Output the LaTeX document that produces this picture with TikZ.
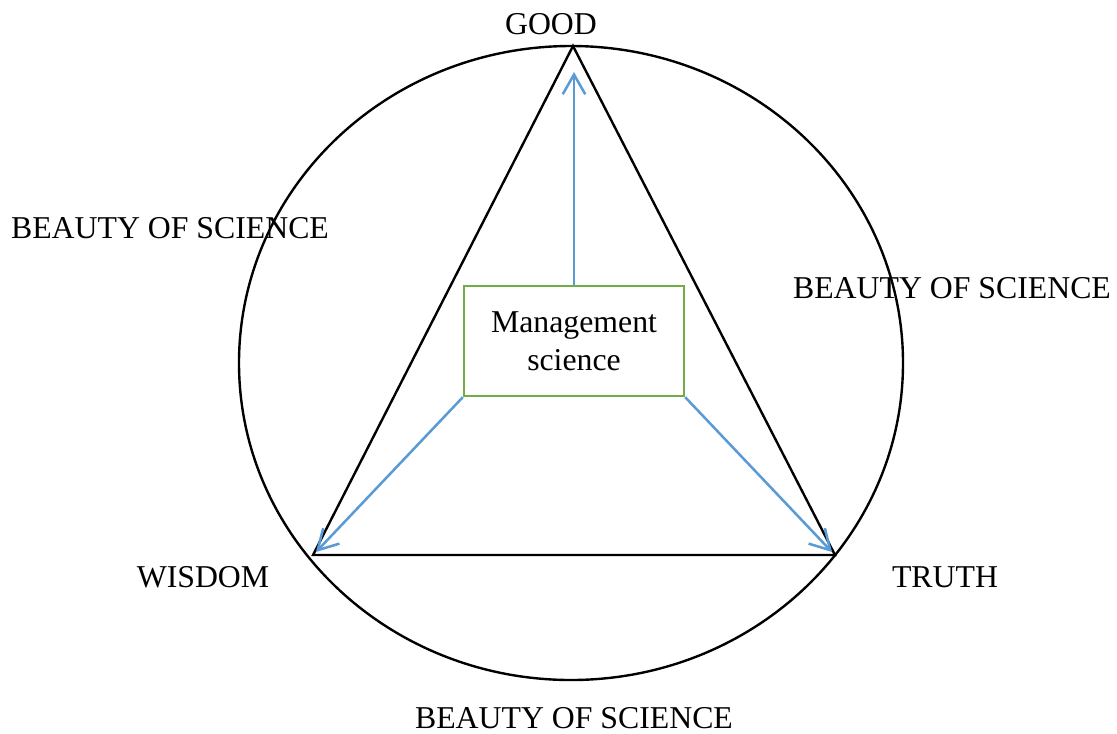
\documentclass[tikz,border=0pt]{standalone}
\usepackage{fontspec}
\setmainfont{Liberation Serif}
\usetikzlibrary{arrows.meta}
\definecolor{boxgreen}{RGB}{112,173,71}
\definecolor{arrowblue}{RGB}{91,155,213}

\begin{document}
\begin{tikzpicture}[x=0.025cm, y=-0.025cm,
      edge/.style={draw=black, line width=1.7pt},
      msbox/.style={draw=boxgreen, line width=1.7pt, minimum width=5.5cm, minimum height=2.75cm, align=center, font=\fontsize{22.6}{27}\selectfont},
      flow/.style={draw=arrowblue, line width=1.8pt, -{Straight Barb[length=14pt, width=16pt, line width=1.8pt]}},
      label/.style={font=\fontsize{22.6}{27}\selectfont, inner sep=0pt}
    ]
    \useasboundingbox (0,0) rectangle (1117,733);

    % outer circle
    \draw[edge] (571,363) ellipse [x radius=332, y radius=317];

    % triangle corners
    \coordinate (good) at (573,46);
    \coordinate (wisdom) at (313,555);
    \coordinate (truth) at (835,555);
    \draw[edge, line join=miter] (good) -- (wisdom) -- (truth) -- cycle;

    % centre box
    \node[msbox] (ms) at (574,341) {Management\\science};

    % arrows from the box
    \coordinate (goodtip) at (574,72);
    \coordinate (wisdomtip) at (316,552);
    \coordinate (truthtip) at (832,552);
    \draw[flow] (ms.north) -- (goodtip);
    \draw[flow] (ms.south west) -- (wisdomtip);
    \draw[flow] (ms.south east) -- (truthtip);

    % labels
    \node[label] (lgood) at (551,24) {GOOD};
    \node[label] (lwisdom) at (203,577) {WISDOM};
    \node[label] (ltruth) at (945,577) {TRUTH};
    \node[label] (bleft) at (170,228) {BEAUTY OF SCIENCE};
    \node[label] (bright) at (952,288) {BEAUTY OF SCIENCE};
    \node[label] (bbottom) at (574,718) {BEAUTY OF SCIENCE};
  \end{tikzpicture}
\end{document}
